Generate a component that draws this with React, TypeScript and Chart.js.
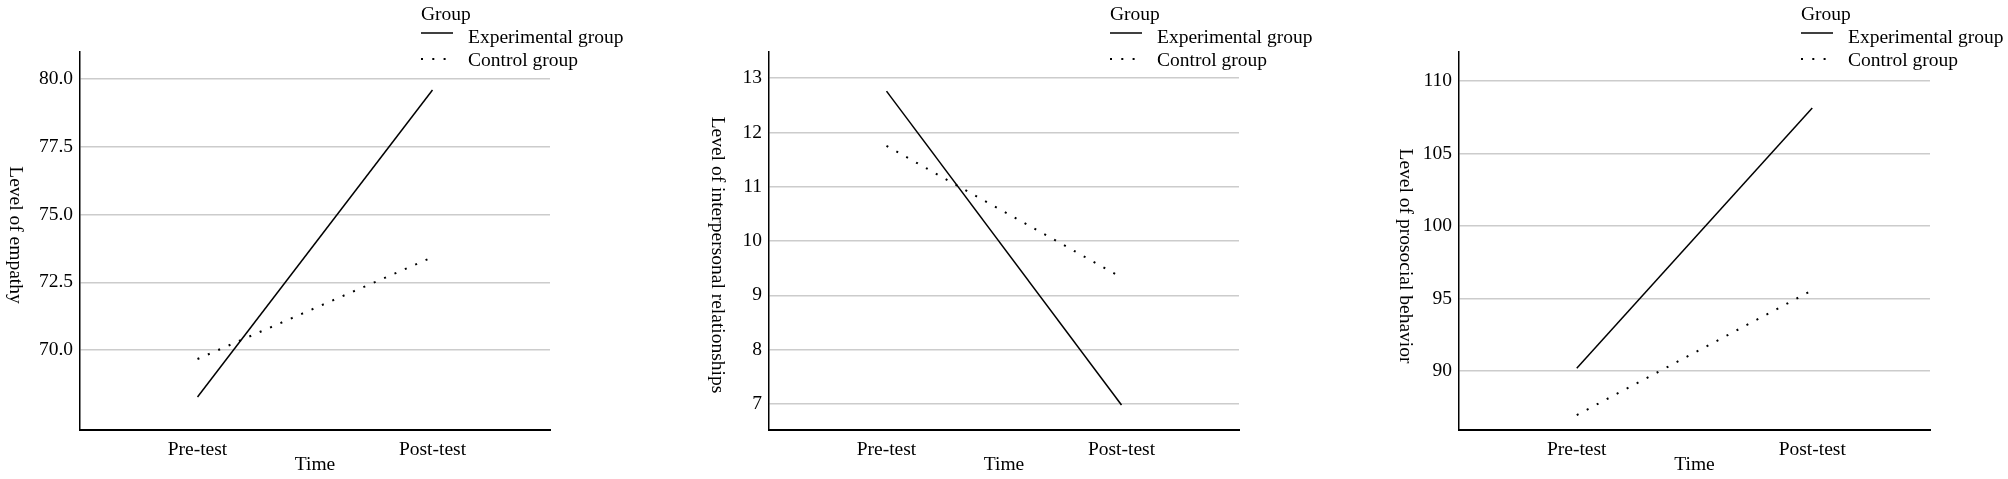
import React, { useEffect, useRef } from "react";
import { Chart, registerables } from "chart.js";

Chart.register(...registerables);

// ---------- data ----------
const timeLabels = ["Pre-test", "Post-test"];
const seriesNames = ["Experimental group", "Control group"];
const legendTitle = "Group";
const xTitle = "Time";

const empathyExperimental = [68.27, 79.6];
const empathyControl = [69.67, 73.43];
const empathyTicks = [70.0, 72.5, 75.0, 77.5, 80.0];

const relationshipsExperimental = [12.76, 6.98];
const relationshipsControl = [11.75, 9.33];
const relationshipsTicks = [7, 8, 9, 10, 11, 12, 13];

const prosocialExperimental = [90.2, 108.14];
const prosocialControl = [86.97, 95.57];
const prosocialTicks = [90, 95, 100, 105, 110];

const yTitles = [
  "Level of empathy",
  "Level of interpersonal relationships",
  "Level of prosocial behavior",
];

// ---------- layout / style ----------
const FONT_FAMILY = '"Liberation Serif", "Times New Roman", Times, serif';
const FONT_SIZE = 19.5;
const H = 479;

type PanelCfg = {
  left: number; // canvas left (page)
  width: number; // canvas width
  areaLeft: number; // chart area left (page)
  areaRight: number; // chart area right (page)
  min: number;
  max: number;
  ticks: number[];
  decimals: number;
  exp: number[];
  ctrl: number[];
  yTitle: string;
  yTitleX: number; // page x of title centre
  yTitleY: number; // page y of title centre
};

const panels: PanelCfg[] = [
  {
    left: 0, width: 660, areaLeft: 80, areaRight: 550,
    min: 67.05, max: 81.0, ticks: empathyTicks, decimals: 1,
    exp: empathyExperimental, ctrl: empathyControl,
    yTitle: yTitles[0], yTitleX: 15, yTitleY: 235,
  },
  {
    left: 660, width: 680, areaLeft: 769, areaRight: 1239,
    min: 6.52, max: 13.48, ticks: relationshipsTicks, decimals: 0,
    exp: relationshipsExperimental, ctrl: relationshipsControl,
    yTitle: yTitles[1], yTitleX: 717, yTitleY: 255,
  },
  {
    left: 1340, width: 668, areaLeft: 1459, areaRight: 1930,
    min: 85.94, max: 112.0, ticks: prosocialTicks, decimals: 0,
    exp: prosocialExperimental, ctrl: prosocialControl,
    yTitle: yTitles[2], yTitleX: 1405, yTitleY: 256,
  },
];

const DOT_DASH = [2, 9.3];

function makeOverlayPlugin(p: PanelCfg) {
  return {
    id: "overlay",
    afterDraw(chart: any) {
      const ctx: CanvasRenderingContext2D = chart.ctx;
      const area = chart.chartArea;
      ctx.save();
      ctx.fillStyle = "#000";
      ctx.font = `${FONT_SIZE}px ${FONT_FAMILY}`;
      // y title
      ctx.save();
      ctx.translate(p.yTitleX - p.left, p.yTitleY);
      ctx.rotate(Math.PI / 2);
      ctx.textAlign = "center";
      ctx.textBaseline = "middle";
      ctx.fillText(p.yTitle, 0, 0);
      ctx.restore();
      // legend
      const lx = area.right - 129;
      ctx.textAlign = "left";
      ctx.textBaseline = "alphabetic";
      ctx.fillText(legendTitle, lx, 20);
      ctx.fillText(seriesNames[0], lx + 47, 43);
      ctx.fillText(seriesNames[1], lx + 47, 66);
      ctx.strokeStyle = "#000";
      ctx.lineWidth = 1.5;
      ctx.beginPath();
      ctx.moveTo(lx, 33);
      ctx.lineTo(lx + 32, 33);
      ctx.stroke();
      ctx.lineWidth = 2;
      ctx.setLineDash(DOT_DASH);
      ctx.beginPath();
      ctx.moveTo(lx, 59);
      ctx.lineTo(lx + 32, 59);
      ctx.stroke();
      ctx.restore();
    },
  };
}

function Panel({ p }: { p: PanelCfg }) {
  const ref = useRef<HTMLCanvasElement | null>(null);
  useEffect(() => {
    if (!ref.current) return;
    const localLeft = p.areaLeft - p.left;
    const padRight = p.width - (p.areaRight - p.left);
    const font = { family: FONT_FAMILY, size: FONT_SIZE };
    const chart = new Chart(ref.current, {
      type: "line",
      data: {
        labels: timeLabels,
        datasets: [
          {
            label: seriesNames[0],
            data: p.exp,
            borderColor: "#000",
            borderWidth: 1.5,
            pointRadius: 0,
            tension: 0,
            fill: false,
          },
          {
            label: seriesNames[1],
            data: p.ctrl,
            borderColor: "#000",
            borderWidth: 2,
            borderDash: DOT_DASH,
            pointRadius: 0,
            tension: 0,
            fill: false,
          },
        ],
      },
      options: {
        animation: false,
        responsive: false,
        devicePixelRatio: 1,
        events: [],
        layout: { padding: { left: 0, top: 52, right: padRight, bottom: 0 } },
        plugins: { legend: { display: false }, tooltip: { enabled: false }, title: { display: false } },
        scales: {
          x: {
            type: "category",
            offset: true,
            grid: { display: false, drawTicks: false },
            border: { display: true, color: "#000", width: 2 },
            ticks: { color: "#000", font, padding: 8, maxRotation: 0 },
            title: { display: true, text: xTitle, color: "#000", font, padding: { top: 0, bottom: 2 } },
            afterFit: (s: any) => { s.height = 49; },
          },
          y: {
            type: "linear",
            min: p.min,
            max: p.max,
            grid: { color: "#cccccc", lineWidth: 1.5, drawTicks: false },
            border: { display: true, color: "#000", width: 1.5 },
            ticks: {
              color: "#000",
              font,
              padding: 7,
              callback: (v: any) => Number(v).toFixed(p.decimals),
            },
            afterBuildTicks: (s: any) => { s.ticks = p.ticks.map((v) => ({ value: v })); },
            afterFit: (s: any) => { s.width = localLeft; },
          },
        },
      },
      plugins: [makeOverlayPlugin(p)],
    } as any);
    return () => chart.destroy();
  }, [p]);
  return (
    <div style={{ position: "absolute", left: p.left, top: 0, width: p.width, height: H }}>
      <canvas ref={ref} width={p.width} height={H} style={{ width: p.width, height: H, display: "block" }} />
    </div>
  );
}

export default function App() {
  return (
    <div style={{ position: "absolute", left: 0, top: 0, width: 2008, height: H, background: "#fff" }}>
      {panels.map((p, i) => (
        <Panel key={i} p={p} />
      ))}
    </div>
  );
}
